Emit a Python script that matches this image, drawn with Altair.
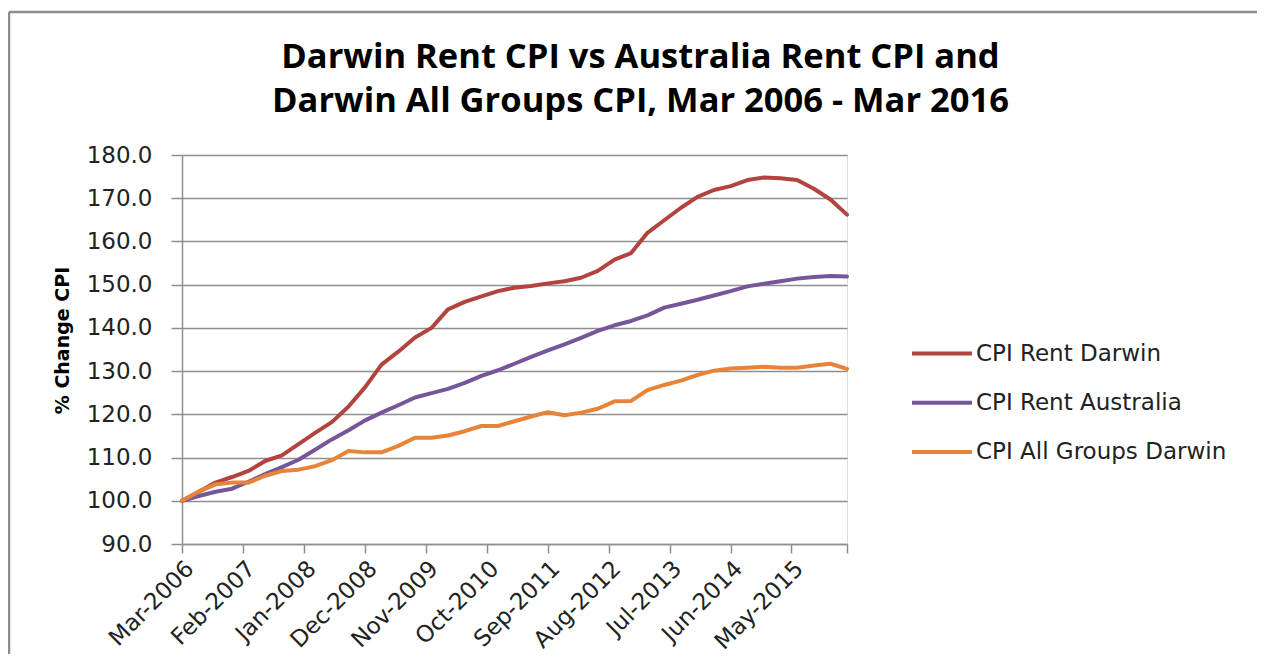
import altair as alt
import pandas as pd

QUARTERS = pd.date_range("2006-03-01", periods=41, freq="3MS")
SERIES = ["CPI Rent Darwin", "CPI Rent Australia", "CPI All Groups Darwin"]
DARWIN_RENT = [100.0, 102.1, 104.2, 105.5, 106.9, 109.2, 110.5, 113.1, 115.7, 118.2,
               121.8, 126.3, 131.5, 134.5, 137.8, 140.0, 144.3, 146.0, 147.3, 148.5,
               149.3, 149.7, 150.3, 150.8, 151.6, 153.2, 155.8, 157.3, 162.0, 164.9,
               167.8, 170.3, 171.9, 172.8, 174.2, 174.8, 174.6, 174.2, 172.2, 169.7,
               166.2]
AUS_RENT = [100.0, 101.1, 102.1, 102.8, 104.4, 106.2, 107.8, 109.5, 111.8, 114.2,
            116.3, 118.6, 120.4, 122.1, 123.9, 124.9, 125.9, 127.3, 128.9, 130.2,
            131.7, 133.3, 134.8, 136.2, 137.7, 139.3, 140.6, 141.6, 142.9, 144.7,
            145.6, 146.5, 147.5, 148.5, 149.6, 150.2, 150.8, 151.4, 151.8, 152.0,
            151.9]
DARWIN_ALL = [100.0, 102.1, 103.8, 104.2, 104.2, 105.8, 106.9, 107.2, 108.0, 109.4,
              111.5, 111.2, 111.2, 112.7, 114.6, 114.6, 115.1, 116.1, 117.3, 117.3,
              118.4, 119.5, 120.5, 119.8, 120.4, 121.3, 123.0, 123.1, 125.6, 126.8,
              127.8, 129.1, 130.1, 130.6, 130.8, 131.0, 130.8, 130.8, 131.3, 131.7,
              130.5]
TICK_LABELS = ["Mar-2006", "Feb-2007", "Jan-2008", "Dec-2008", "Nov-2009", "Oct-2010",
               "Sep-2011", "Aug-2012", "Jul-2013", "Jun-2014", "May-2015"]
AXIS_END = "Mar-2016"
Y_TICKS = [90, 100, 110, 120, 130, 140, 150, 160, 170, 180]
COLORS = ["#B3433F", "#75569A", "#E6843A"]
TITLE = ["Darwin Rent CPI vs Australia  Rent CPI and",
         "Darwin All Groups CPI, Mar 2006 - Mar 2016"]

rows = []
for name, vals in zip(SERIES, [DARWIN_RENT, AUS_RENT, DARWIN_ALL]):
    for d, v in zip(QUARTERS, vals):
        rows.append({"date": d.strftime("%Y-%m-%d"), "series": name, "value": v})
df = pd.DataFrame(rows)


def dt(label):
    t = pd.to_datetime(label, format="%b-%Y")
    return alt.DateTime(year=int(t.year), month=int(t.month), date=1, utc=True)


GRID = "#8f8f8f"
LABEL_FONT = "DejaVu Sans"

lines = alt.Chart(df).mark_line(strokeWidth=4, strokeJoin="round", strokeCap="round").encode(
    x=alt.X(
        "date:T",
        scale=alt.Scale(type="utc", domain=[dt(TICK_LABELS[0]), dt(AXIS_END)]),
        axis=alt.Axis(
            values=[dt(l) for l in TICK_LABELS + [AXIS_END]],
            labelExpr="datum.index >= 1 ? '' : utcFormat(datum.value, '%b-%Y')",
            labelAngle=-45,
            labelOverlap=False,
            labelFont=LABEL_FONT,
            labelFontSize=23,
            labelColor="#222222",
            labelPadding=4,
            tickSize=9,
            tickColor=GRID,
            tickWidth=1.5,
            domainColor=GRID,
            domainWidth=1.5,
            grid=False,
            title=None,
        ),
    ),
    y=alt.Y(
        "value:Q",
        scale=alt.Scale(domain=[90, 180], nice=False, zero=False),
        axis=alt.Axis(
            values=Y_TICKS,
            format=".1f",
            labelFont=LABEL_FONT,
            labelFontSize=23,
            labelColor="#222222",
            labelPadding=19,
            tickSize=11,
            tickColor=GRID,
            tickWidth=1.5,
            domainColor=GRID,
            domainWidth=1.5,
            grid=True,
            gridColor=GRID,
            gridWidth=1.5,
            title="% Change CPI",
            titleFont="DejaVu Sans",
            titleFontSize=19,
            titleFontWeight="bold",
            titleColor="#000000",
            titleX=-120,
            titleY=185,
            titleAngle=-90,
            titleAlign="center",
            titleBaseline="middle",
        ),
    ),
    color=alt.Color(
        "series:N",
        scale=alt.Scale(domain=SERIES, range=COLORS),
        sort=SERIES,
        legend=alt.Legend(
            title=None,
            orient="none",
            legendX=748,
            legendY=186.5,
            padding=0,
            symbolType="M-3,0L3,0",
            symbolSize=400,
            symbolStrokeWidth=4,
            labelFont=LABEL_FONT,
            labelFontSize=23,
            labelColor="#222222",
            labelOffset=22,
            labelLimit=400,
            rowPadding=25.2,
        ),
    ),
)

frame = alt.Chart(pd.DataFrame({"k": [0]}))
top_border = frame.mark_rule(color="#8c8c8c", strokeWidth=2.5).encode(
    x=alt.value(-173), x2=alt.value(1200), y=alt.value(-143)
)
left_border = frame.mark_rule(color="#8c8c8c", strokeWidth=2.5).encode(
    x=alt.value(-173), y=alt.value(-143), y2=alt.value(700)
)

chart = alt.layer(lines, top_border, left_border).properties(
    width=665,
    height=389,
    title=alt.Title(
        TITLE,
        font="Open Sans",
        fontSize=34.5,
        fontWeight="bold",
        color="#000000",
        lineHeight=44,
        anchor="middle",
        dx=126,
        dy=139,
        offset=30,
    ),
    padding={"left": 174, "top": 147, "right": 410, "bottom": 110},
    autosize=alt.AutoSizeParams(type="none"),
).configure_view(stroke=None).configure(background="white")

chart.save("out.html", embed_options={"renderer": "svg", "actions": False})
